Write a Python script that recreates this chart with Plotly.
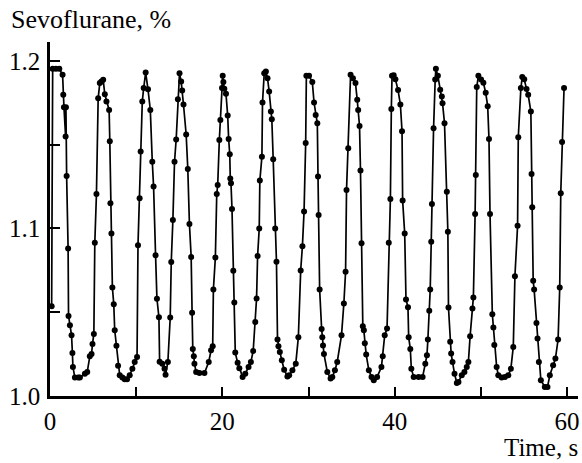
import plotly.graph_objects as go

time_s = [
    0.19, 0.31, 0.69, 1.08, 1.46, 1.54, 1.62, 1.81, 1.85, 1.93, 2.10, 2.15, 2.31, 2.50, 2.60, 2.66, 2.89,
    3.28, 3.47, 4.05, 4.32, 4.62, 4.82, 4.93, 5.09, 5.20, 5.39, 5.59, 5.78, 5.97, 6.17, 6.36, 6.55,
    6.86, 6.94, 7.01, 7.13, 7.24, 7.40, 7.51, 7.71, 7.90, 8.09, 8.40, 8.67, 8.94, 9.25, 9.56, 9.83,
    10.10, 10.21, 10.40, 10.52, 10.71, 10.87, 11.10, 11.37, 11.64, 11.87, 12.02, 12.25, 12.41, 12.64,
    12.72, 13.03, 13.29, 13.41, 13.68, 13.95, 14.07, 14.26, 14.45, 14.64, 14.84, 15.03, 15.22, 15.34,
    15.49, 15.80, 15.99, 16.18, 16.38, 16.49, 16.57, 16.69, 16.76, 16.96, 17.34, 17.92,
    18.42, 18.69, 18.88, 18.96, 19.19, 19.35, 19.46, 19.65, 19.77, 19.96, 20.04, 20.12, 20.23, 20.42,
    20.62, 20.73, 20.86, 20.92, 21.00, 21.12, 21.27, 21.39, 21.50, 21.77, 21.97, 22.35, 22.66, 23.04,
    23.31, 23.58, 23.82, 23.97, 24.09, 24.28, 24.35, 24.59, 24.66, 24.86, 25.05, 25.24, 25.43, 25.63,
    25.74, 25.90, 26.13, 26.28, 26.40, 26.51, 26.67, 26.90, 27.17, 27.55, 27.75, 28.13, 28.52, 28.82,
    29.09, 29.29, 29.48, 29.67, 29.75, 30.06, 30.44, 30.64, 30.83, 31.02, 31.10, 31.17, 31.29, 31.52,
    31.60, 31.68, 31.79, 32.18, 32.56, 32.76, 33.06, 33.33, 33.83, 34.10, 34.30, 34.41, 34.61, 34.88,
    35.15, 35.45, 35.65, 35.76, 35.92, 36.03, 36.15, 36.30, 36.42, 36.53, 36.69, 37.00, 37.31, 37.57,
    37.96, 38.46, 38.61, 38.84, 39.11, 39.31, 39.50, 39.61, 39.69, 39.88, 40.08, 40.39, 40.66, 40.85,
    40.92, 41.16, 41.31, 41.54, 41.62, 41.81, 41.93, 42.20, 42.77, 43.24, 43.55, 43.74, 43.85, 44.01,
    44.12, 44.24, 44.32, 44.51, 44.70, 44.78, 45.01, 45.28, 45.47, 45.55, 45.78, 46.05, 46.17, 46.24,
    46.44, 46.55, 46.71, 46.94, 47.21, 47.40, 47.78, 48.09, 48.36, 48.55, 48.75, 49.02, 49.13, 49.33,
    49.41, 49.52, 49.71, 50.02, 50.29, 50.56, 50.79, 50.94, 51.06, 51.33, 51.45, 51.56, 51.83, 52.02,
    52.41, 52.79, 53.18, 53.48, 53.76, 53.95, 54.26, 54.34, 54.64, 54.80, 55.03, 55.30, 55.49, 55.80,
    55.88, 55.96, 56.07, 56.18, 56.45, 56.57, 56.73, 56.96, 57.42, 57.73, 58.00, 58.38, 58.65, 58.96,
    59.15, 59.27, 59.42, 59.65,
]

sevoflurane = [
    1.0536, 1.1952, 1.1952, 1.1952, 1.1916, 1.1797, 1.1723, 1.1548, 1.1723, 1.1313, 1.0880, 1.0478, 1.0422, 1.0363, 1.0257, 1.0173, 1.0110,
    1.0110, 1.0110, 1.0133, 1.0143, 1.0237, 1.0250, 1.0310, 1.0370, 1.0914, 1.1205, 1.1777, 1.1867, 1.1877, 1.1887, 1.1800, 1.1757,
    1.1707, 1.1520, 1.1150, 1.0970, 1.0647, 1.0548, 1.0392, 1.0300, 1.0180, 1.0124, 1.0110, 1.0100, 1.0100, 1.0124, 1.0163, 1.0203,
    1.0233, 1.0900, 1.1180, 1.1458, 1.1757, 1.1837, 1.1930, 1.1830, 1.1707, 1.1398, 1.1250, 1.0840, 1.0580, 1.0470,
    1.0205, 1.0193, 1.0163, 1.0127, 1.0203, 1.0468, 1.0800, 1.1050, 1.1398, 1.1530, 1.1771, 1.1926, 1.1876, 1.1823,
    1.1739, 1.1560, 1.1355, 1.1026, 1.0830, 1.0496, 1.0280, 1.0237, 1.0193, 1.0143, 1.0137, 1.0137,
    1.0203, 1.0273, 1.0297, 1.0635, 1.0827, 1.1205, 1.1259, 1.1528, 1.1647, 1.1837, 1.1910, 1.1873, 1.1833, 1.1803,
    1.1673, 1.1534, 1.1442, 1.1297, 1.1269, 1.1116, 1.0747, 1.0558, 1.0259, 1.0199, 1.0165, 1.0114, 1.0133, 1.0173,
    1.0203, 1.0269, 1.0442, 1.0582, 1.0835, 1.1000, 1.1285, 1.1428, 1.1751, 1.1926, 1.1936, 1.1896, 1.1817, 1.1697,
    1.1651, 1.1412, 1.1000, 1.0801, 1.0337, 1.0297, 1.0263, 1.0213, 1.0157, 1.0117, 1.0124, 1.0153, 1.0193, 1.0351,
    1.0749, 1.0894, 1.1100, 1.1510, 1.1910, 1.1910, 1.1873, 1.1751, 1.1677, 1.1627, 1.1309, 1.1080, 1.0635, 1.0400,
    1.0351, 1.0301, 1.0251, 1.0143, 1.0104, 1.0114, 1.0153, 1.0203, 1.0363, 1.0552, 1.0741, 1.1229, 1.1478, 1.1916,
    1.1896, 1.1867, 1.1767, 1.1707, 1.1611, 1.1345, 1.0911, 1.0416, 1.0392, 1.0315, 1.0247, 1.0153, 1.0114, 1.0094,
    1.0114, 1.0173, 1.0237, 1.0363, 1.0402, 1.0914, 1.1175, 1.1713, 1.1910, 1.1914, 1.1890, 1.1825, 1.1739, 1.1580,
    1.1167, 1.0970, 1.0576, 1.0530, 1.0351, 1.0281, 1.0163, 1.0114, 1.0114, 1.0114, 1.0193, 1.0243, 1.0337, 1.0508,
    1.0635, 1.0920, 1.1145, 1.1598, 1.1889, 1.1952, 1.1910, 1.1827, 1.1787, 1.1747, 1.1627, 1.1219, 1.0980, 1.0528,
    1.0323, 1.0253, 1.0203, 1.0133, 1.0078, 1.0084, 1.0124, 1.0143, 1.0173, 1.0203, 1.0357, 1.0522, 1.0588, 1.1086,
    1.1319, 1.1843, 1.1910, 1.1889, 1.1869, 1.1809, 1.1729, 1.1534, 1.1086, 1.0488, 1.0408, 1.0305, 1.0173, 1.0124,
    1.0110, 1.0114, 1.0124, 1.0163, 1.0293, 1.0715, 1.1016, 1.1544, 1.1837, 1.1903, 1.1890, 1.1831, 1.1797, 1.1697,
    1.1325, 1.1126, 1.0687, 1.0635, 1.0436, 1.0343, 1.0203, 1.0094, 1.0054, 1.0054, 1.0124, 1.0183, 1.0223, 1.0337,
    1.0647, 1.1209, 1.1516, 1.1837,
]

x_ticks = [0, 10, 20, 30, 40, 50, 60]
x_labels = ["0", "", "20", "", "40", "", "60"]
y_ticks = [1.0, 1.05, 1.1, 1.15, 1.2]
y_labels = ["1.0", "", "1.1", "", "1.2"]

FONT = "Liberation Serif"

fig = go.Figure()
fig.add_trace(go.Scatter(
    x=time_s, y=sevoflurane, mode="lines+markers",
    line=dict(color="black", width=1.7),
    marker=dict(color="black", size=6),
    showlegend=False,
))

fig.update_layout(
    width=582, height=463,
    margin=dict(l=50, r=2, t=42, b=67),
    paper_bgcolor="white", plot_bgcolor="white",
    font=dict(family=FONT, size=25, color="black"),
    xaxis=dict(
        range=[0, 61.27], tickmode="array", tickvals=x_ticks, ticktext=x_labels,
        ticks="inside", ticklen=9, tickwidth=2, tickcolor="black",
        showline=True, linecolor="black", linewidth=2.5,
        showgrid=False, zeroline=False, ticklabelstandoff=1,
        tickfont=dict(family=FONT, size=25),
    ),
    yaxis=dict(
        range=[1.0, 1.2112], tickmode="array", tickvals=y_ticks, ticktext=y_labels,
        ticks="inside", ticklen=10, tickwidth=2, tickcolor="black",
        showline=True, linecolor="black", linewidth=2.5,
        showgrid=False, zeroline=False, ticklabelstandoff=2,
        tickfont=dict(family=FONT, size=25),
    ),
    annotations=[
        dict(text="Sevoflurane, %", xref="paper", yref="paper", x=-50/530, y=1 + 42/354,
             xanchor="left", yanchor="top", showarrow=False, font=dict(family=FONT, size=26),
             xshift=9, yshift=-3),
        dict(text="Time, s", xref="paper", yref="paper", x=1, y=0,
             xanchor="right", yanchor="top", showarrow=False, font=dict(family=FONT, size=25),
             xshift=2, yshift=-36),
    ],
)

fig.write_html("out.html")
